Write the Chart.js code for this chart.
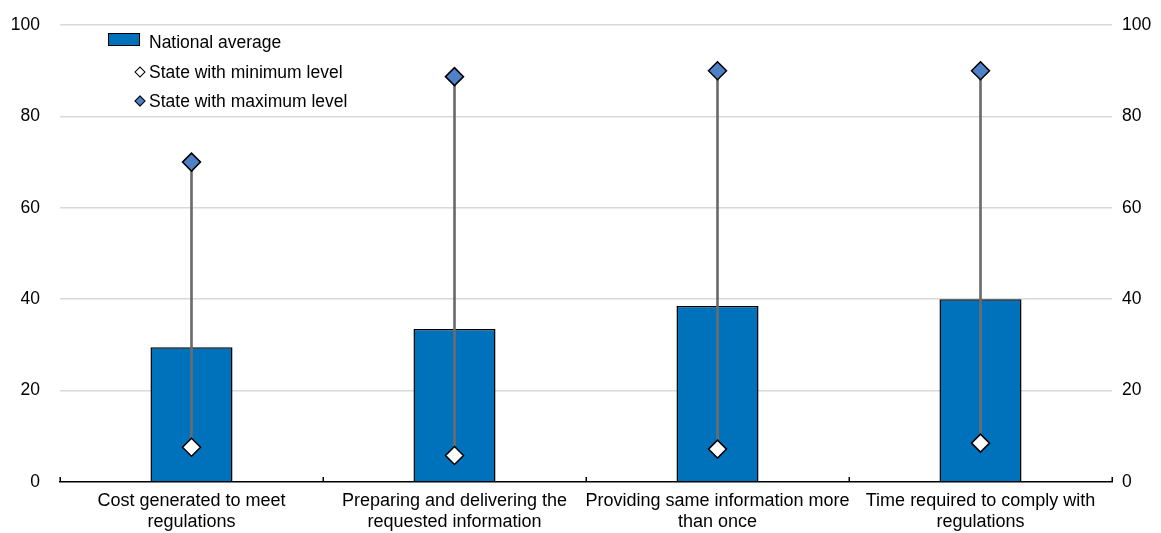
<!DOCTYPE html>
<html>
<head>
<meta charset="utf-8">
<script src="https://cdn.jsdelivr.net/npm/chart.js@4/dist/chart.umd.min.js"></script>
<style>
  html, body { margin: 0; padding: 0; background: #fff; }
  #wrap { position: relative; width: 1161px; height: 533px; }
  #legend { position: absolute; left: 108px; top: 29px; font-family: "Liberation Sans", Arial, sans-serif; font-size: 17.5px; color: #000; }
  .li { position: relative; height: 29.5px; line-height: 26px; padding-left: 41px; white-space: nowrap; }
  .sw { position: absolute; left: 0; top: 4px; width: 30px; height: 11px; background: #0072bc; border: 1px solid #000; }
  .dm { position: absolute; left: 28px; top: 9px; width: 6px; height: 6px; border: 1px solid #000; transform: rotate(45deg); }
</style>
</head>
<body>
<div id="wrap">
  <canvas id="c" width="1161" height="533"></canvas>
  <div id="legend">
    <div class="li"><span class="sw"></span>National average</div>
    <div class="li"><span class="dm" style="background:#fff"></span>State with minimum level</div>
    <div class="li"><span class="dm" style="background:#4f81c7"></span>State with maximum level</div>
  </div>
</div>
<script>
const categories = [
  ["Cost generated to meet", "regulations"],
  ["Preparing and delivering the", "requested information"],
  ["Providing same information more", "than once"],
  ["Time required to comply with", "regulations"]
];
const nationalAverage = [29.5, 33.5, 38.5, 40.0];
const stateMinimum = [7.6, 5.8, 7.2, 8.5];
const stateMaximum = [70.0, 88.7, 90.0, 90.0];
const yTicks = [0, 20, 40, 60, 80, 100];

const FONT = "'Liberation Sans', Arial, sans-serif";

const upTicks = {
  id: 'upTicks',
  afterDraw(chart) {
    const xs = chart.scales.x;
    const ctx = chart.ctx;
    const n = categories.length;
    const step = (xs.right - xs.left) / n;
    ctx.save();
    ctx.strokeStyle = '#000';
    ctx.lineWidth = 1.5;
    ctx.beginPath();
    for (let i = 0; i <= n; i++) {
      const x = Math.round(xs.left + i * step) + 0.25;
      ctx.moveTo(x, xs.top);
      ctx.lineTo(x, xs.top - 5);
    }
    ctx.stroke();
    ctx.restore();
  }
};

new Chart(document.getElementById('c'), {
  type: 'bar',
  data: {
    labels: categories,
    datasets: [
      {
        type: 'line',
        label: 'State with maximum level',
        data: stateMaximum,
        showLine: false,
        pointStyle: 'rectRot',
        pointRadius: 9,
        pointBackgroundColor: '#4f81c7',
        pointBorderColor: '#000',
        pointBorderWidth: 1.5,
        order: 0
      },
      {
        type: 'line',
        label: 'State with minimum level',
        data: stateMinimum,
        showLine: false,
        pointStyle: 'rectRot',
        pointRadius: 9,
        pointBackgroundColor: '#fff',
        pointBorderColor: '#000',
        pointBorderWidth: 1.5,
        order: 1
      },
      {
        label: 'Range',
        data: stateMinimum.map((v, i) => [v, stateMaximum[i]]),
        backgroundColor: '#6b6b6b',
        borderWidth: 0,
        barThickness: 2,
        grouped: false,
        order: 2
      },
      {
        label: 'National average',
        data: nationalAverage,
        backgroundColor: '#0072bc',
        borderColor: '#000',
        borderWidth: 1.5,
        borderSkipped: 'bottom',
        categoryPercentage: 1,
        barPercentage: 0.312,
        grouped: false,
        order: 3
      }
    ]
  },
  options: {
    responsive: false,
    animation: false,
    layout: { padding: { top: 25, left: 0, right: 0, bottom: 0 } },
    plugins: { legend: { display: false }, tooltip: { enabled: false } },
    scales: {
      x: {
        grid: { display: false },
        border: { color: '#000', width: 1.5 },
        ticks: { color: '#000', padding: 0, maxRotation: 0, autoSkip: false, font: { family: FONT, size: 18, lineHeight: 1.2 } },
        afterFit(s) { s.height = 51; }
      },
      y: {
        min: 0, max: 100,
        position: 'left',
        afterBuildTicks(s) { s.ticks = yTicks.map(v => ({ value: v })); },
        grid: { color: (c) => c.tick && c.tick.value === 0 ? 'rgba(0,0,0,0)' : '#d9d9d9', lineWidth: 1.5, drawTicks: false },
        border: { display: false },
        ticks: { color: '#000', padding: 20, font: { family: FONT, size: 17.5 } },
        afterFit(s) { s.width = 60; s.paddingTop = 0; s.paddingBottom = 0; }
      },
      y2: {
        min: 0, max: 100,
        position: 'right',
        afterBuildTicks(s) { s.ticks = yTicks.map(v => ({ value: v })); },
        grid: { display: false, drawTicks: false },
        border: { display: false },
        ticks: { color: '#000', padding: 10, font: { family: FONT, size: 17.5 } },
        afterFit(s) { s.width = 49; s.paddingTop = 0; s.paddingBottom = 0; }
      }
    }
  },
  plugins: [upTicks]
});
</script>
</body>
</html>
